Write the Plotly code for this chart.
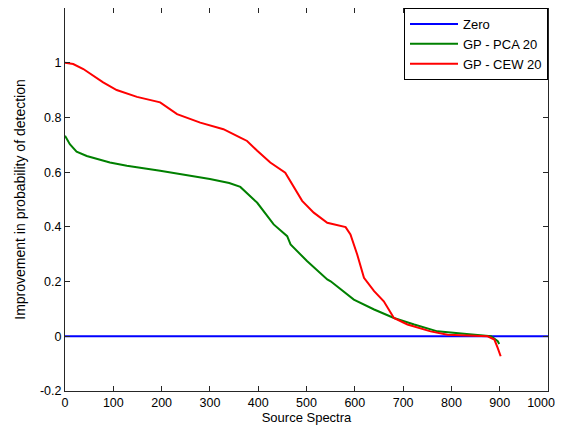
import plotly.graph_objects as go

# Zero reference line
zero_x = [0, 1000]
zero_y = [0, 0]

# GP - PCA 20
pca_x = [0, 10, 24, 45, 93, 128, 197, 250, 300, 340, 363, 398, 432, 460, 467, 501, 543,
         550, 598, 640, 681, 723, 771, 826, 882, 896, 899]
pca_y = [0.733, 0.702, 0.675, 0.659, 0.635, 0.623, 0.605, 0.59, 0.575, 0.56, 0.546, 0.488,
         0.409, 0.366, 0.336, 0.275, 0.208, 0.201, 0.134, 0.098, 0.067, 0.043, 0.018, 0.009,
         0.0, -0.018, -0.028]

# GP - CEW 20
cew_x = [0, 17, 38, 59, 79, 107, 149, 197, 232, 280, 328, 363, 377, 398, 425, 456, 477,
         491, 515, 543, 581, 591, 605, 619, 640, 660, 681, 709, 757, 792, 875, 889, 896, 902]
cew_y = [1.0, 0.995, 0.977, 0.952, 0.928, 0.9, 0.875, 0.855, 0.812, 0.781, 0.757, 0.726,
         0.714, 0.678, 0.635, 0.598, 0.537, 0.495, 0.452, 0.415, 0.399, 0.372, 0.299, 0.214,
         0.165, 0.128, 0.067, 0.043, 0.018, 0.006, 0.0, -0.012, -0.043, -0.073]

x_ticks = [0, 100, 200, 300, 400, 500, 600, 700, 800, 900, 1000]
# last label padded with figure spaces so it stays inside the window edge
x_tick_labels = ["0", "100", "200", "300", "400", "500", "600", "700", "800", "900",
                 "1000\u2007\u2007"]
y_ticks = [-0.2, 0, 0.2, 0.4, 0.6, 0.8, 1]
y_tick_labels = ["-0.2", "0", "0.2", "0.4", "0.6", "0.8", "1"]

font = "Liberation Sans, Arial, sans-serif"
fs = 12.5

fig = go.Figure()
fig.add_trace(go.Scatter(x=zero_x, y=zero_y, mode="lines", name="Zero",
                         line=dict(color="#0000FF", width=2)))
fig.add_trace(go.Scatter(x=pca_x, y=pca_y, mode="lines", name="GP - PCA 20",
                         line=dict(color="#008000", width=2)))
fig.add_trace(go.Scatter(x=cew_x, y=cew_y, mode="lines", name="GP - CEW 20",
                         line=dict(color="#FF0000", width=2)))

axis_common = dict(showgrid=False, zeroline=False, showline=True, linecolor="#262626",
                   linewidth=1, mirror="ticks", ticks="inside", ticklen=5,
                   tickcolor="#262626", automargin=False, ticklabeloverflow="allow",
                   tickfont=dict(family=font, size=fs, color="black"))

fig.update_xaxes(range=[0, 1000], tickvals=x_ticks, ticktext=x_tick_labels,
                 ticklabelstandoff=0,
                 title=dict(text="Source Spectra", font=dict(family=font, size=13, color="black"),
                            standoff=2),
                 **axis_common)
fig.update_yaxes(range=[-0.2, 1.2], tickvals=y_ticks, ticktext=y_tick_labels,
                 title=dict(text="Improvement in probability of detection",
                            font=dict(family=font, size=14, color="black"), standoff=11),
                 **axis_common)

# the page places the figure 8px in from the top-left corner
fig.update_layout(
    width=555, height=418,
    margin=dict(l=57, r=15, t=0, b=35),
    paper_bgcolor="white", plot_bgcolor="white",
    font=dict(family=font, size=fs, color="black"),
    legend=dict(x=1, y=1, xanchor="right", yanchor="top",
                bgcolor="white", bordercolor="black", borderwidth=1,
                font=dict(family=font, size=13, color="black"),
                itemwidth=48, tracegroupgap=0),
)

fig.write_html("out.html")
